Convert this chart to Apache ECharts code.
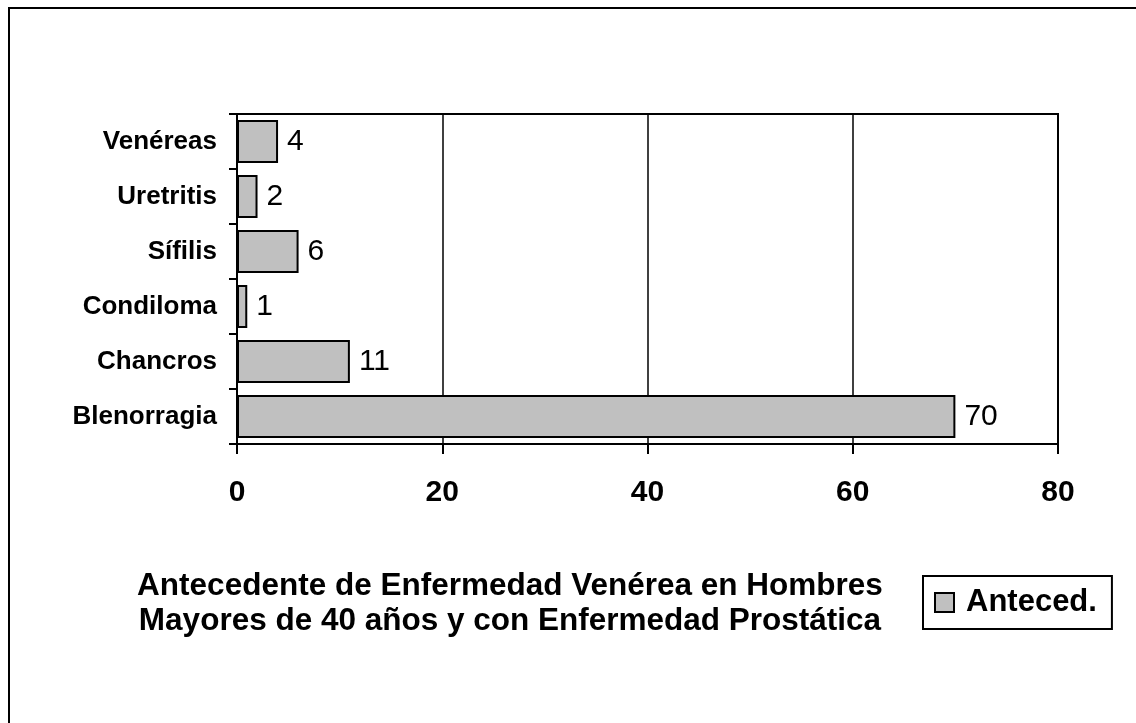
<!DOCTYPE html>
<html>
<head>
<meta charset="utf-8">
<script src="https://cdn.jsdelivr.net/npm/echarts@6/dist/echarts.min.js"></script>
<style>
html, body { margin: 0; padding: 0; background: #fff; }
#main { width: 1136px; height: 723px; }
</style>
</head>
<body>
<div id="main"></div>
<script>
// datos
var categorias = ['Blenorragia', 'Chancros', 'Condiloma', 'Sífilis', 'Uretritis', 'Venéreas'];
var anteced = [70, 11, 1, 6, 2, 4];
var ejeX = [0, 20, 40, 60, 80];

var myChart = echarts.init(document.getElementById('main'));

var option = {
    backgroundColor: '#ffffff',
    animation: false,
    textStyle: { fontFamily: 'Liberation Sans, Arial, sans-serif' },
    title: {
        text: 'Antecedente de Enfermedad Venérea en Hombres\nMayores de 40 años y con Enfermedad Prostática',
        left: 510,
        top: 569,
        padding: 0,
        textAlign: 'center',
        textStyle: { fontSize: 31.5, fontWeight: 'bold', color: '#000', lineHeight: 35 }
    },
    legend: {
        data: ['Anteced.'],
        left: 923,
        top: 576,
        orient: 'vertical',
        padding: [11, 15, 11, 11],
        borderColor: '#000',
        borderWidth: 2,
        itemWidth: 19,
        itemHeight: 19,
        icon: 'rect',
        itemStyle: { borderColor: '#000', borderWidth: 2 },
        textStyle: { fontSize: 31, fontWeight: 'bold', color: '#000', padding: [0, 0, 0, 7] }
    },
    grid: {
        left: 237, right: 78, top: 114, bottom: 279,
        show: true, borderColor: '#000', borderWidth: 2
    },
    xAxis: {
        type: 'value',
        min: ejeX[0], max: ejeX[ejeX.length - 1], interval: 20,
        axisLine: { show: true, lineStyle: { color: '#000', width: 2 } },
        axisTick: { show: true, length: 10, inside: false, lineStyle: { color: '#000', width: 2 } },
        splitLine: { show: true, lineStyle: { color: '#000', width: 1.5 } },
        axisLabel: { fontSize: 30, fontWeight: 'bold', color: '#000', margin: 34 }
    },
    yAxis: {
        type: 'category',
        data: categorias,
        axisLine: { show: true, lineStyle: { color: '#000', width: 2 } },
        axisTick: { show: true, length: 8, lineStyle: { color: '#000', width: 2 } },
        axisLabel: { fontSize: 26, fontWeight: 'bold', color: '#000', margin: 20 }
    },
    series: [{
        name: 'Anteced.',
        type: 'bar',
        data: anteced,
        barCategoryGap: '22%',
        itemStyle: { color: '#c0c0c0', borderColor: '#000', borderWidth: 2 },
        label: {
            show: true, position: 'right', distance: 9,
            fontSize: 30, color: '#000'
        }
    }],
    graphic: [{
        type: 'rect',
        shape: { x: 9, y: 8, width: 1140, height: 730 },
        style: { fill: 'none', stroke: '#000', lineWidth: 2 },
        silent: true
    }]
};

myChart.setOption(option);
</script>
</body>
</html>
